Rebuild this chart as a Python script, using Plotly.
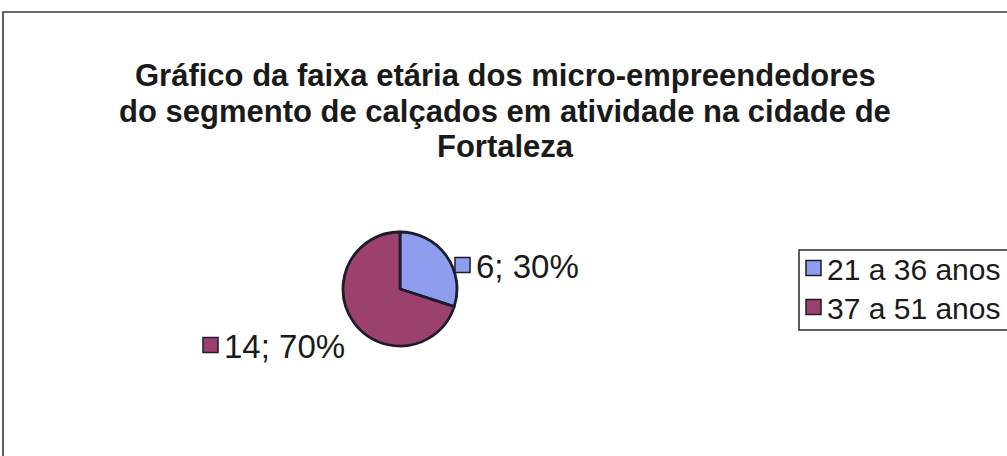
import plotly.graph_objects as go

# ---- data ----
categories = ["21 a 36 anos", "37 a 51 anos"]
values = [6, 14]
slice_colors = ["#8E9DEE", "#9C406E"]
title_lines = [
    "Gráfico da faixa etária dos micro-empreendedores",
    "do segmento de calçados em atividade na cidade de",
    "Fortaleza",
]

W, H = 1007, 456
FONT = "Liberation Sans, Arial, sans-serif"
INK = "#1a1a1a"
EDGE = "#1c1c2c"


def px(x):
    return x / W


def py(y):
    return 1 - y / H


total = sum(values)
pct = [round(100 * v / total) for v in values]
label_texts = [f"{v}; {p}%" for v, p in zip(values, pct)]

fig = go.Figure()

# pie: centre (400,289) r=57 in pixels
cx, cy, r = 400, 289, 57
fig.add_trace(go.Pie(
    labels=categories,
    values=values,
    sort=False,
    direction="clockwise",
    rotation=0,
    textinfo="none",
    hoverinfo="label+value+percent",
    marker=dict(colors=slice_colors, line=dict(color=EDGE, width=2.8)),
    domain=dict(x=[px(cx - r), px(cx + r)], y=[py(cy + r), py(cy - r)]),
    showlegend=False,
))

shapes = []
annotations = []

# chart border (top & left visible, rest outside the crop)
shapes.append(dict(type="rect", xref="paper", yref="paper",
                   x0=px(3), x1=px(W + 10), y0=py(12), y1=py(H + 10),
                   line=dict(color="#3a3a3a", width=1.6), fillcolor="rgba(0,0,0,0)"))

# title, one annotation per line (tight Excel-like line spacing)
for i, line in enumerate(title_lines):
    annotations.append(dict(xref="paper", yref="paper", x=px(505), y=py(76 + 35 * i),
                            xanchor="center", yanchor="middle", showarrow=False,
                            text=f"<b>{line}</b>",
                            font=dict(family=FONT, size=31, color=INK)))

# data labels with keys
SQ = 15
label_pos = [(455, 265), (203, 345)]  # square left x, text centre y
for (sx, sy), txt, col in zip(label_pos, label_texts, slice_colors):
    shapes.append(dict(type="rect", xref="paper", yref="paper",
                       x0=px(sx), x1=px(sx + SQ), y0=py(sy + SQ / 2), y1=py(sy - SQ / 2),
                       fillcolor=col, line=dict(color=EDGE, width=1.5)))
    annotations.append(dict(xref="paper", yref="paper", x=px(sx + SQ + 4), y=py(sy + 1),
                            xanchor="left", yanchor="middle", showarrow=False,
                            text=txt, font=dict(family=FONT, size=33, color=INK)))

# legend box
shapes.append(dict(type="rect", xref="paper", yref="paper",
                   x0=px(799), x1=px(W + 20), y0=py(250), y1=py(330),
                   line=dict(color="#2a2a2a", width=1.5), fillcolor="rgba(0,0,0,0)"))
legend_y = [268, 307]
for ly, cat, col in zip(legend_y, categories, slice_colors):
    shapes.append(dict(type="rect", xref="paper", yref="paper",
                       x0=px(806), x1=px(806 + SQ), y0=py(ly + SQ / 2), y1=py(ly - SQ / 2),
                       fillcolor=col, line=dict(color=EDGE, width=1.5)))
    annotations.append(dict(xref="paper", yref="paper", x=px(825), y=py(ly + 1),
                            xanchor="left", yanchor="middle", showarrow=False,
                            text=cat, font=dict(family=FONT, size=30, color=INK)))

fig.update_layout(
    width=W, height=H, autosize=False,
    margin=dict(l=0, r=0, t=0, b=0),
    paper_bgcolor="white", plot_bgcolor="white",
    shapes=shapes,
    annotations=annotations,
)

fig.write_html("out.html")
